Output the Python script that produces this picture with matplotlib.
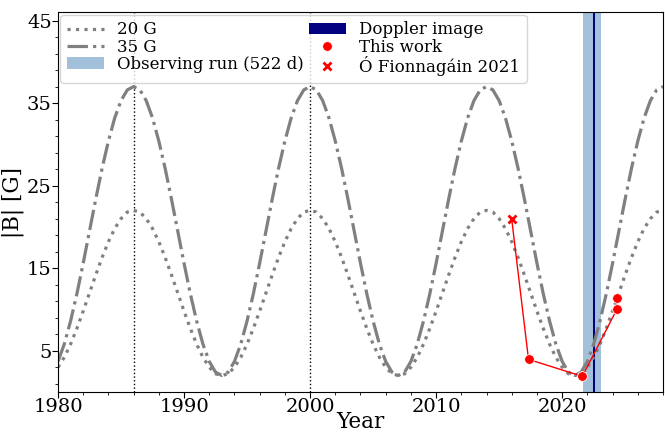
import numpy as np
import matplotlib.pyplot as plt
from matplotlib.ticker import AutoMinorLocator

plt.rcParams['font.family'] = 'serif'
plt.rcParams['font.serif'] = ['DejaVu Serif']

# model field strength over the activity cycle, sampled every half year
years = np.arange(1980, 2028.25, 0.5)
b_20 = [3.0, 4.2, 5.8, 7.7, 9.8, 12.0, 14.2, 16.3, 18.2, 19.8, 21.0, 21.8, 22.0,
        21.8, 21.0, 19.8, 18.2, 16.3, 14.2, 12.0, 9.8, 7.7, 5.8, 4.2, 3.0, 2.2, 2.0,
        2.2, 3.0, 4.2, 5.8, 7.7, 9.8, 12.0, 14.2, 16.3, 18.2, 19.8, 21.0, 21.8, 22.0,
        21.8, 21.0, 19.8, 18.2, 16.3, 14.2, 12.0, 9.8, 7.7, 5.8, 4.2, 3.0, 2.2, 2.0,
        2.2, 3.0, 4.2, 5.8, 7.7, 9.8, 12.0, 14.2, 16.3, 18.2, 19.8, 21.0, 21.8, 22.0,
        21.8, 21.0, 19.8, 18.2, 16.3, 14.2, 12.0, 9.8, 7.7, 5.8, 4.2, 3.0, 2.2, 2.0,
        2.2, 3.0, 4.2, 5.8, 7.7, 9.8, 12.0, 14.2, 16.3, 18.2, 19.8, 21.0, 21.8, 22.0]
b_35 = [3.7, 5.8, 8.6, 11.9, 15.6, 19.5, 23.4, 27.1, 30.4, 33.2, 35.3, 36.6, 37.0,
        36.6, 35.3, 33.2, 30.4, 27.1, 23.4, 19.5, 15.6, 11.9, 8.6, 5.8, 3.7, 2.4, 2.0,
        2.4, 3.7, 5.8, 8.6, 11.9, 15.6, 19.5, 23.4, 27.1, 30.4, 33.2, 35.3, 36.6, 37.0,
        36.6, 35.3, 33.2, 30.4, 27.1, 23.4, 19.5, 15.6, 11.9, 8.6, 5.8, 3.7, 2.4, 2.0,
        2.4, 3.7, 5.8, 8.6, 11.9, 15.6, 19.5, 23.4, 27.1, 30.4, 33.2, 35.3, 36.6, 37.0,
        36.6, 35.3, 33.2, 30.4, 27.1, 23.4, 19.5, 15.6, 11.9, 8.6, 5.8, 3.7, 2.4, 2.0,
        2.4, 3.7, 5.8, 8.6, 11.9, 15.6, 19.5, 23.4, 27.1, 30.4, 33.2, 35.3, 36.6, 37.0]

# cycle maxima marked with vertical lines
cycle_max = [1986, 2000]

# observations
run_start = 2021.66
run_days = 522
doppler = (2022.42, 2022.64)
zdi_year = [2017.33, 2021.6, 2024.35, 2024.35]
zdi_b = [3.95, 1.9, 10.05, 11.35]
of_year = [2016.0]
of_b = [20.9]

fig = plt.figure(figsize=(6.65, 4.32), dpi=100)
ax = fig.add_axes([0.0872, 0.0926, 0.9098, 0.8789])

for yr in cycle_max:
    ax.axvline(yr, color='k', ls=':', lw=1)

ax.axvspan(run_start, run_start + run_days / 365.25, color='steelblue', alpha=0.5,
           lw=0, label='Observing run (%d d)' % run_days)
ax.axvspan(doppler[0], doppler[1], color='navy', lw=0, label='Doppler image')

ax.plot(years, b_20, color='gray', ls=':', lw=2.3, label='20 G')
ax.plot(years, b_35, color='gray', ls='-.', lw=2.3, label='35 G')

ax.plot(of_year + zdi_year, of_b + zdi_b, color='red', lw=1)
ax.plot(zdi_year, zdi_b, 'o', color='red', ms=7, mec='white', mew=0.6, label='This work')
ax.plot(of_year, of_b, 'x', color='red', ms=5.5, mew=2, label='Ó Fionnagáin 2021')

ax.set_xlim(1980, 2028)
ax.set_ylim(0, 46)
ax.set_xticks([1980, 1990, 2000, 2010, 2020])
ax.set_yticks([5, 15, 25, 35, 45])
ax.xaxis.set_minor_locator(AutoMinorLocator(5))
ax.yaxis.set_minor_locator(AutoMinorLocator(5))
ax.tick_params(which='major', labelsize=14, length=4, pad=0.5)
ax.tick_params(which='minor', length=2)
ax.set_xlabel('Year', fontsize=15.5, labelpad=-3.5)
ax.set_ylabel('|B| [G]', fontsize=15.5, labelpad=2)

h, l = ax.get_legend_handles_labels()
order = ['20 G', '35 G', 'Observing run (522 d)', 'Doppler image', 'This work', 'Ó Fionnagáin 2021']
idx = [l.index(o) for o in order]
ax.legend([h[i] for i in idx], [l[i] for i in idx], loc='upper left', ncol=2,
          fontsize=12, labelspacing=0.02, columnspacing=0.3, handlelength=2.2,
          borderaxespad=0.15)

plt.savefig('out.png')
